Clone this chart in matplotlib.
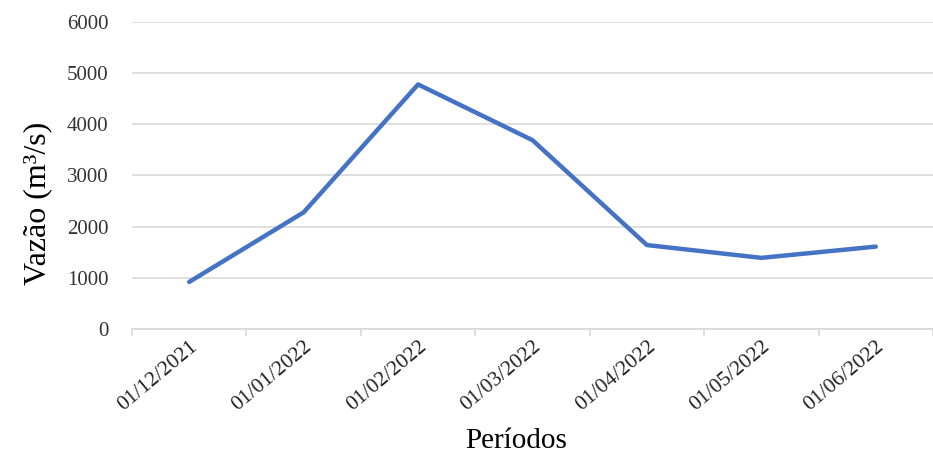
import matplotlib.pyplot as plt

plt.rcParams['font.family'] = ['Liberation Serif', 'DejaVu Serif']

periodos = ['01/12/2021', '01/01/2022', '01/02/2022', '01/03/2022',
            '01/04/2022', '01/05/2022', '01/06/2022']
vazao = [920, 2280, 4780, 3690, 1640, 1390, 1610]
y_ticks = [0, 1000, 2000, 3000, 4000, 5000, 6000]

fig = plt.figure(figsize=(9.33, 4.58), dpi=100)
ax = fig.add_axes([0.1415, 0.2817, 0.8585, 0.6703])

x = list(range(len(periodos)))
ax.plot(x, vazao, color='#4472C4', linewidth=3.2, solid_capstyle='round', zorder=3)

ax.set_xlim(-0.5, len(periodos) - 0.5)
ax.set_ylim(0, 6000)
ax.set_yticks(y_ticks)
ax.set_xticks(x)
ax.set_xticklabels(periodos, rotation=40, ha='right', rotation_mode='anchor')
# marcas do eixo x ficam entre as categorias
ax.set_xticks([i + 0.5 for i in range(-1, len(periodos))], minor=True)

ax.grid(axis='y', color='#d9d9d9', linewidth=1.2)
ax.set_axisbelow(True)
for lado in ['top', 'right', 'left']:
    ax.spines[lado].set_visible(False)
ax.spines['bottom'].set_color('#d9d9d9')
ax.spines['bottom'].set_linewidth(1.2)

ax.tick_params(axis='y', length=0, labelsize=15, pad=17, colors='#333333')
ax.tick_params(axis='x', which='major', length=0, labelsize=15.5, pad=6, colors='#222222')
ax.tick_params(axis='x', which='minor', length=5, color='#d9d9d9', width=1.2)

ax.set_ylabel('Vazão (m³/s)', fontsize=23)
ax.yaxis.set_label_coords(-0.1, 0.41)
ax.set_xlabel('Períodos', fontsize=21)
ax.xaxis.set_label_coords(0.479, -0.322)

fig.savefig('out.png', dpi=100)
